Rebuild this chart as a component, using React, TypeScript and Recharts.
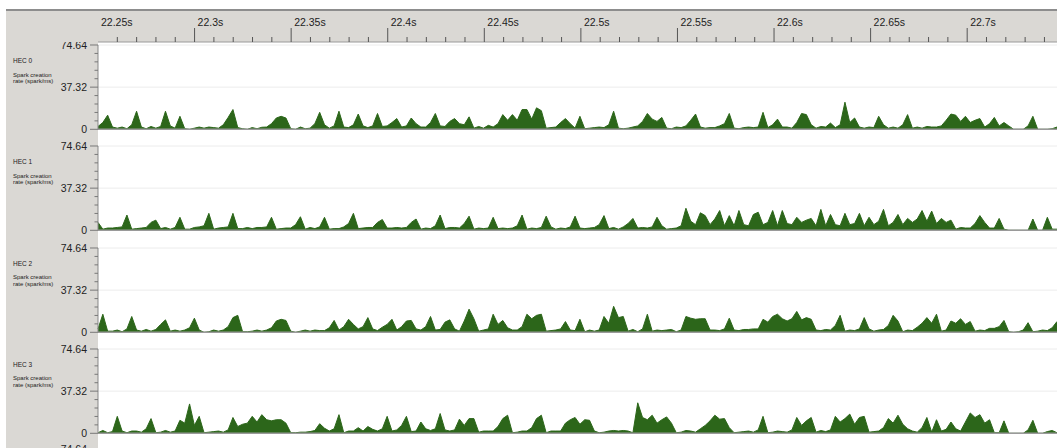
import { AreaChart, Area, LineChart, XAxis, YAxis, ReferenceLine } from 'recharts';

const HEC_LABELS = ['HEC 0', 'HEC 1', 'HEC 2', 'HEC 3'];

// spark creation rate (spark/ms), one sample every ~2.5 ms from 22.25s
const hec0 = [
  2.5, 6, 12.5, 2, 1, 2, 0.5, 4, 16, 2,
  0.5, 2.5, 1, 2.5, 16, 3, 1, 11.5, 0.5, 0,
  1, 2, 1, 2, 1.5, 1, 4, 10.5, 17.5, 1.5,
  0.5, 0, 1.5, 0.5, 1.8, 2, 5, 10, 11.5, 10,
  0.5, 0, 2, 0.5, 1, 5, 15, 4, 1, 3,
  16, 2, 1.5, 4, 13.5, 3, 1.5, 3, 14, 2.5,
  3, 6, 9.5, 2, 3, 10, 5, 2, 2, 6,
  14, 3, 2.5, 7, 9.5, 5, 4, 11, 1, 2.5,
  1, 3.5, 2, 5, 13, 8, 13, 8, 17.5, 17.5,
  9, 19, 16.5, 1, 1.5, 2, 6, 9.5, 5, 1,
  11.5, 0.5, 1, 1.5, 2, 1.5, 4, 16, 1, 0.5,
  1, 2, 3, 7, 14, 9, 7, 10.5, 1, 0.5,
  2, 1.5, 3, 8, 13.5, 2, 1, 1.5, 1.5, 3,
  5, 14, 1, 0.5, 1.5, 2, 1.5, 2, 15, 1.5,
  4, 9, 2, 2, 1, 6, 14, 13, 4, 1,
  2.5, 2, 5.5, 1.5, 4, 24, 6, 10, 2, 1,
  2, 1.5, 11.5, 4, 1, 2, 1, 4, 13, 1,
  2, 1, 2.5, 2, 2, 3, 8, 13.5, 12.5, 7,
  11.5, 6, 8, 9.5, 2, 5, 10.5, 3, 6, 3,
  0, 0, 0, 3, 11.5, 0, 0, 0, 0.5, 2,
];

const hec1 = [
  7, 1, 2, 2, 2.5, 3, 13.5, 1, 1.5, 2,
  2.5, 7, 9, 1.5, 2.5, 1, 2.5, 11.5, 1, 1,
  2.5, 3, 4, 15, 1, 2, 2.5, 3, 15, 1.5,
  1.5, 2.5, 1.5, 2.5, 2.5, 3, 11.5, 1, 1.5, 2,
  2, 5, 12, 1, 2.5, 1.5, 3, 11.5, 1, 1.5,
  1.5, 3, 6, 15, 1.5, 2, 2.5, 2.5, 7, 9.5,
  2, 2, 2.5, 2, 2.5, 7, 10, 1, 2, 1.5,
  4, 13.5, 1.5, 2.5, 2.5, 2, 6, 12.5, 1, 2,
  1.5, 2, 11.5, 1.5, 2, 1.5, 2, 4, 13.5, 1,
  2, 1.5, 2.5, 12.5, 3, 1, 2, 1.5, 3, 12.5,
  2, 1.5, 2, 2.5, 5, 13, 1.5, 2.5, 1, 3,
  6, 10.5, 2, 2.5, 2, 3, 11.5, 4, 1, 1.5,
  2, 4, 19.5, 8, 5, 15.5, 13, 5, 10, 17.5,
  4, 13, 4, 17.5, 5, 4, 14, 16, 5, 7,
  17.5, 4, 17.5, 6, 5, 11.5, 7, 9, 10.5, 4,
  18.5, 4, 14, 5, 4, 15, 5, 6, 15, 4,
  11.5, 5, 8, 18.5, 4, 7, 14, 5, 10.5, 7,
  10, 17.5, 8, 17, 6, 10.5, 7, 9, 1, 2.5,
  2, 2, 6, 13, 7, 2, 2, 10.5, 1, 0,
  0, 0, 0, 0, 10, 0, 0, 11.5, 1, 1,
];

const hec2 = [
  3, 16, 1, 1, 2, 0.5, 3, 14, 2, 1,
  2.5, 1, 2.5, 7, 11, 1, 2, 1, 2, 4,
  12.5, 2, 0, 0.5, 2, 1, 2, 5, 13, 15,
  0.5, 0.5, 1, 2, 1, 2, 4, 10, 11.5, 10.5,
  1, 0, 1, 2, 1, 2, 1.5, 1.5, 4, 10.5,
  2, 5, 11.5, 7, 3, 5, 13, 3, 1.5, 4.5,
  7, 11.5, 2, 5, 10, 10.5, 3, 2, 5, 14,
  2, 2.5, 9, 11, 3, 1, 10, 20.5, 12, 1,
  2, 3, 16, 7, 10.5, 4, 2, 2, 5, 16,
  12, 15, 16, 1, 1.5, 2, 3, 9.5, 2, 1.5,
  11.5, 0.5, 2, 1, 2, 14, 8, 23, 13, 14,
  1, 2.5, 0.5, 3, 16, 1, 2, 1.5, 2, 2.5,
  0.5, 2, 14, 12.5, 11.5, 12, 12, 2, 2, 1.5,
  3, 12.5, 2, 1.5, 2.5, 2.5, 3, 3, 11.5, 9,
  14, 16, 12, 10, 12, 18.5, 11, 13, 11.5, 2,
  1.5, 2.5, 2, 6, 15, 1, 2, 1.5, 3, 13,
  3, 1, 2, 2.5, 6, 15, 10, 0.5, 2, 1.5,
  4.5, 8, 13, 8, 16, 1, 2, 10, 8, 12,
  7, 9.5, 1, 2, 1.5, 3.5, 3.5, 5, 10.5, 0.5,
  0, 0.5, 2, 8.5, 0.5, 1, 2, 1.5, 4, 9.5,
];

const hec3 = [
  0.5, 2.5, 0.5, 1.5, 15, 2, 0.5, 2, 2, 1,
  4, 13, 0.5, 1, 2.5, 1, 2, 11.5, 9, 26,
  7, 15, 0.5, 1, 1.5, 2, 1, 3, 14, 6,
  8, 9, 15, 10, 16.5, 12, 11, 12, 12, 9,
  0.5, 0.5, 1, 1, 1.5, 2.5, 8.5, 4.5, 2, 4,
  16.5, 0.5, 2, 2, 5, 2, 6, 3.5, 2, 4,
  15, 2, 3, 7, 15, 1.5, 2, 10, 4, 2.5,
  4, 17.5, 3, 2, 3, 12.5, 7, 13, 13, 1,
  2, 2, 2, 6, 13, 16, 0.5, 1, 2, 2,
  5, 13, 16, 0.5, 2, 2, 2, 9, 12, 14,
  8, 12, 11.5, 2, 0.5, 1, 2, 2.5, 2, 2.5,
  2, 0.5, 27, 14, 12, 16, 9, 12, 14.5, 9,
  0.5, 1, 2.5, 2, 1, 4, 7, 11, 16, 12.5,
  13, 5, 0.5, 1, 1.5, 2, 1, 3, 15, 0.5,
  1, 2, 1.5, 1, 3, 14, 7, 11, 14, 1,
  2.5, 1.5, 3, 15, 10, 13, 17, 8, 14, 15,
  1, 1.5, 2, 5, 13, 9, 16, 8, 4, 2,
  1, 5, 14, 1, 12, 2, 3.5, 10, 4, 2,
  10, 18, 14, 16.5, 9, 12, 0.5, 0.5, 11, 0,
  0, 0, 0, 3, 11.5, 0, 0, 1.5, 2.5, 0.5,
];

const SERIES = [hec0, hec1, hec2, hec3];

const Y_MAX = 74.64;
const Y_LABELS = [0, 37.32, 74.64];
const Y_TICKS = [0, 7.464, 14.928, 22.392, 29.856, 37.32, 44.784, 52.248, 59.712, 67.176, 74.64];

const T_START = 22.25;
const T_END = 22.7465;
const TIME_MAJOR = [22.25, 22.3, 22.35, 22.4, 22.45, 22.5, 22.55, 22.6, 22.65, 22.7];
const TIME_TICKS = TIME_MAJOR.flatMap((t) =>
  [0, 1, 2, 3, 4].map((k) => Math.round((t + k * 0.01) * 1000) / 1000)
);

const FONT = '"Liberation Sans", Arial, Helvetica, sans-serif';
const GREEN = '#2c661a';
const GREY = '#dad8d4';

const LEFT = 6;
const CHART_W = 1051;
const AXIS_W = 92;
const PANEL_TOP = 45;
const PANEL_STEP = 101.3;
const PLOT_H = 84.3;

function YTick(props: any) {
  const { y, payload } = props;
  const v = payload.value;
  const major = Y_LABELS.some((l) => Math.abs(l - v) < 1e-6);
  return (
    <g>
      <line x1={AXIS_W - (major ? 8 : 3.5)} x2={AXIS_W} y1={y} y2={y} stroke="#777" />
      {major && (
        <text x={AXIS_W - 11} y={y} dy={3.6} textAnchor="end" fontSize={10.5} fill="#222" fontFamily={FONT}>
          {v === 0 ? '0' : v.toFixed(2)}
        </text>
      )}
    </g>
  );
}

function TimeTick(props: any) {
  const { x, payload } = props;
  const v = payload.value;
  const major = TIME_MAJOR.some((t) => Math.abs(t - v) < 1e-6);
  return (
    <g>
      {v > T_START + 1e-6 && <line x1={x} x2={x} y1={42} y2={major ? 28 : 37} stroke="#555" />}
      {major && (
        <text x={x + 3} y={26} fontSize={10.5} fill="#222" fontFamily={FONT}>
          {`${v}s`}
        </text>
      )}
    </g>
  );
}

function Panel({ index, values }: { index: number; values: number[] }) {
  const data = values.map((v, i) => ({ i, v }));
  const top = PANEL_TOP + PANEL_STEP * index;
  return (
    <div style={{ position: 'absolute', left: LEFT, top: top - 8, width: CHART_W, height: PLOT_H + 16 }}>
      <AreaChart width={CHART_W} height={PLOT_H + 16} data={data} margin={{ top: 8, right: 0, bottom: 8, left: 0 }}>
        <XAxis dataKey="i" hide />
        <YAxis
          domain={[0, Y_MAX]}
          ticks={Y_TICKS}
          interval={0}
          width={AXIS_W}
          tick={<YTick />}
          tickLine={false}
          axisLine={{ stroke: '#888' }}
          allowDataOverflow
        />
        <ReferenceLine y={Y_MAX} stroke="#ececec" />
        <ReferenceLine y={37.32} stroke="#ececec" />
        <ReferenceLine y={0} stroke="#9a9a9a" strokeWidth={1.5} />
        <Area
          type="linear"
          dataKey="v"
          stroke={GREEN}
          strokeWidth={1}
          fill={GREEN}
          fillOpacity={1}
          dot={false}
          activeDot={false}
          isAnimationActive={false}
        />
      </AreaChart>
    </div>
  );
}

export default function App() {
  const tickRows = TIME_MAJOR.map((t) => ({ t }));
  return (
    <div style={{ position: 'absolute', left: 0, top: 0, width: 1057, height: 448, overflow: 'hidden', background: '#fff', fontFamily: FONT }}>
      {/* left label column */}
      <div style={{ position: 'absolute', left: LEFT, top: 42, width: AXIS_W, height: 406, background: GREY }} />

      {/* vertical grid behind the panels */}
      <div style={{ position: 'absolute', left: LEFT, top: 42 }}>
        <LineChart width={CHART_W} height={406} data={tickRows} margin={{ top: 0, right: 0, bottom: 0, left: AXIS_W }}>
          <XAxis type="number" dataKey="t" domain={[T_START, T_END]} hide allowDataOverflow />
          <YAxis hide domain={[0, 1]} />
          {TIME_MAJOR.slice(1).map((t) => (
            <ReferenceLine key={t} x={t} stroke="#e3e3e3" />
          ))}
        </LineChart>
      </div>

      {SERIES.map((values, k) => (
        <Panel key={k} index={k} values={values} />
      ))}

      {HEC_LABELS.map((label, k) => {
        const dy = PANEL_STEP * k;
        return (
          <div key={label} style={{ position: 'absolute', left: 13, top: 58 + dy, color: '#222', lineHeight: 1 }}>
            <div style={{ fontSize: 6.5 }}>{label}</div>
            <div style={{ fontSize: 6, marginTop: 7 }}>Spark creation</div>
            <div style={{ fontSize: 6, marginTop: 0.5 }}>rate (spark/ms)</div>
          </div>
        );
      })}

      {/* next panel's top label, cut off by the window */}
      <div style={{ position: 'absolute', left: LEFT, width: AXIS_W - 11, top: 444, textAlign: 'right', fontSize: 10.5, color: '#222', lineHeight: 1 }}>
        74.64
      </div>

      {/* time ruler */}
      <div style={{ position: 'absolute', left: LEFT, top: 9, width: CHART_W, height: 31, background: GREY, borderTop: '2px solid #8d8d8d' }} />
      <div style={{ position: 'absolute', left: LEFT, top: 0 }}>
        <LineChart width={CHART_W} height={46} data={tickRows} margin={{ top: 0, right: 0, bottom: 0, left: AXIS_W }}>
          <XAxis
            type="number"
            dataKey="t"
            orientation="top"
            domain={[T_START, T_END]}
            ticks={TIME_TICKS}
            interval={0}
            height={42}
            tick={<TimeTick />}
            tickLine={false}
            axisLine={{ stroke: '#9a9a9a' }}
            allowDataOverflow
          />
          <YAxis hide domain={[0, 1]} />
        </LineChart>
      </div>
    </div>
  );
}
